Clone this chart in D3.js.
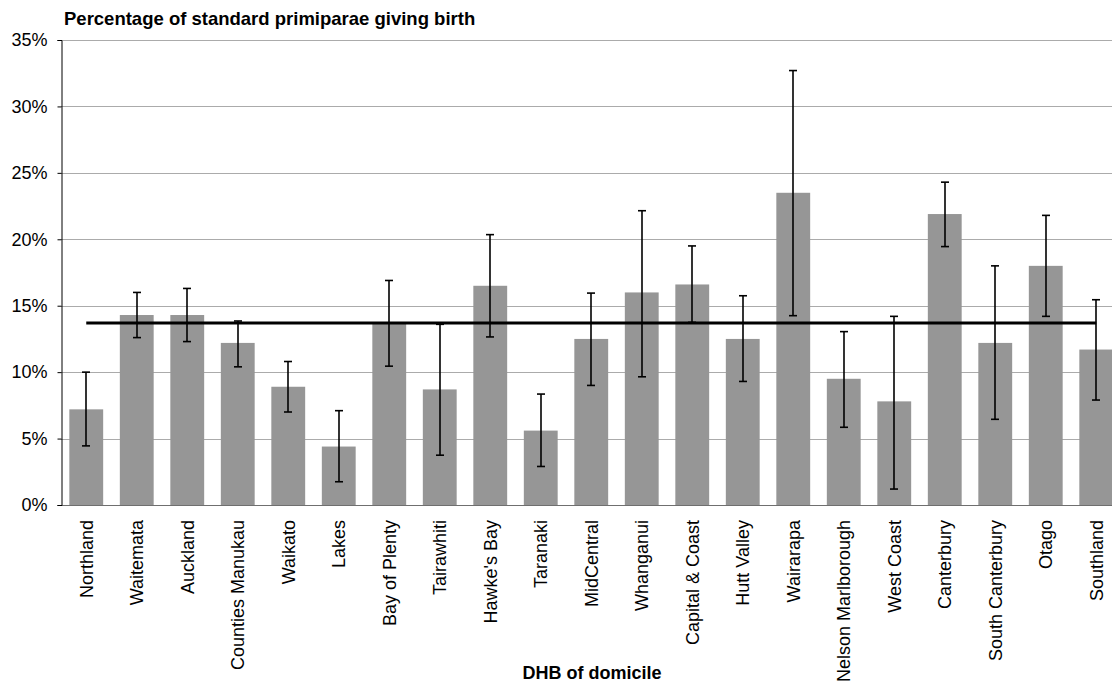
<!DOCTYPE html>
<html>
<head>
<meta charset="utf-8">
<script src="https://cdn.jsdelivr.net/npm/d3@7"></script>
<style>
  html, body { margin: 0; padding: 0; background: #fff; }
  svg { display: block; font-family: "Liberation Sans", Arial, sans-serif; }
</style>
</head>
<body>
<svg id="chart" width="1112" height="686"></svg>
<script>
const categories = ["Northland","Waitemata","Auckland","Counties Manukau","Waikato","Lakes","Bay of Plenty","Tairawhiti","Hawke's Bay","Taranaki","MidCentral","Whanganui","Capital & Coast","Hutt Valley","Wairarapa","Nelson Marlborough","West Coast","Canterbury","South Canterbury","Otago","Southland"];
const values   = [7.2, 14.3, 14.3, 12.2, 8.9, 4.4, 13.7, 8.7, 16.5, 5.6, 12.5, 16.0, 16.6, 12.5, 23.5, 9.5, 7.8, 21.9, 12.2, 18.0, 11.7];
const ciUpper  = [10.0, 16.0, 16.3, 13.85, 10.8, 7.1, 16.9, 13.6, 20.35, 8.35, 15.95, 22.15, 19.5, 15.75, 32.7, 13.05, 14.2, 24.3, 18.0, 21.8, 15.45];
const ciLower  = [4.45, 12.6, 12.3, 10.4, 7.0, 1.75, 10.45, 3.75, 12.65, 2.9, 9.0, 9.65, 13.75, 9.3, 14.25, 5.85, 1.2, 19.45, 6.45, 14.2, 7.9];
const nationalRate = 13.7;
const yTicks = [0, 5, 10, 15, 20, 25, 30, 35];
const chartTitle = "Percentage of standard primiparae giving birth";
const xTitle = "DHB of domicile";

const svg = d3.select("#chart");
const mLeft = 61, mTop = 40, mBottom = 505, bandW = 50.5;
const x = d3.scaleBand().domain(categories).range([mLeft, mLeft + bandW * categories.length]).paddingInner(0.33).paddingOuter(0.165);
const y = d3.scaleLinear().domain([0, 35]).range([mBottom, mTop]);

// gridlines
svg.append("g").selectAll("line").data(yTicks.filter(d => d > 0)).join("line")
  .attr("x1", mLeft).attr("x2", 1112)
  .attr("y1", d => Math.round(y(d)) + 0.5).attr("y2", d => Math.round(y(d)) + 0.5)
  .attr("stroke", "#ababab").attr("stroke-width", 1);

// bars
svg.append("g").selectAll("rect").data(categories).join("rect")
  .attr("x", d => x(d)).attr("width", x.bandwidth())
  .attr("y", (d, i) => y(values[i])).attr("height", (d, i) => y(0) - y(values[i]))
  .attr("fill", "#969696");

// x axis line
svg.append("line").attr("x1", mLeft).attr("x2", 1112)
  .attr("y1", Math.round(y(0)) + 0.5).attr("y2", Math.round(y(0)) + 0.5)
  .attr("stroke", "#6f6f6f").attr("stroke-width", 1);

// y axis
const yAxis = d3.axisLeft(y).tickValues(yTicks).tickFormat(d => d + "%").tickSize(4).tickPadding(10);
const gy = svg.append("g").attr("transform", `translate(${mLeft + 0.5},0)`).call(yAxis);
gy.select(".domain").attr("stroke", "#000");
gy.selectAll(".tick line").attr("stroke", "#000");
gy.selectAll(".tick text").attr("font-size", 18).attr("fill", "#000")
  .attr("font-family", '"Liberation Sans", Arial, sans-serif');

// national rate line
const cx = d => x(d) + x.bandwidth() / 2;
svg.append("line")
  .attr("x1", cx(categories[0])).attr("x2", cx(categories[categories.length - 1]))
  .attr("y1", y(nationalRate)).attr("y2", y(nationalRate))
  .attr("stroke", "#000").attr("stroke-width", 3);

// error bars
const eb = svg.append("g").attr("stroke", "#000").attr("stroke-width", 1.6);
categories.forEach((c, i) => {
  const xc = Math.round(cx(c));
  eb.append("line").attr("x1", xc).attr("x2", xc).attr("y1", y(ciUpper[i])).attr("y2", y(ciLower[i]));
  eb.append("line").attr("x1", xc - 4).attr("x2", xc + 4).attr("y1", y(ciUpper[i])).attr("y2", y(ciUpper[i]));
  eb.append("line").attr("x1", xc - 4).attr("x2", xc + 4).attr("y1", y(ciLower[i])).attr("y2", y(ciLower[i]));
});

// category labels
svg.append("g").selectAll("text").data(categories).join("text")
  .attr("transform", d => `translate(${cx(d)},${mBottom + 15}) rotate(-90)`)
  .attr("text-anchor", "end").attr("dy", "0.35em")
  .attr("font-size", 18).attr("fill", "#000")
  .text(d => d);

// titles
svg.append("text").attr("x", 64).attr("y", 25)
  .attr("font-size", 18.5).attr("font-weight", "bold").attr("fill", "#000")
  .text(chartTitle);
svg.append("text").attr("x", 592).attr("y", 679).attr("text-anchor", "middle")
  .attr("font-size", 18).attr("font-weight", "bold").attr("fill", "#000")
  .text(xTitle);
</script>
</body>
</html>
